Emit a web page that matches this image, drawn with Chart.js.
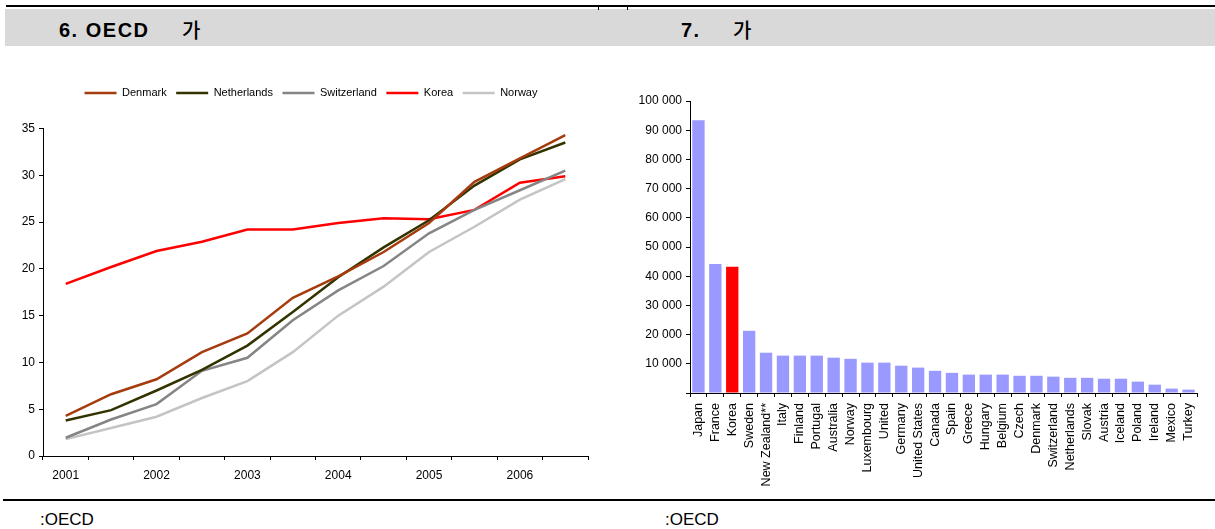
<!DOCTYPE html>
<html>
<head>
<meta charset="utf-8">
<script src="https://cdn.jsdelivr.net/npm/chart.js@4.4.1/dist/chart.umd.min.js"></script>
<style>
  html, body { margin: 0; padding: 0; }
  body {
    width: 1215px; height: 529px; position: relative; overflow: hidden; background: #fff;
    font-family: "Liberation Sans", Arial, "Noto Sans CJK KR", sans-serif; color: #000;
  }
  .rule { position: absolute; background: #000; }
  .band { position: absolute; left: 5px; right: 0; top: 9px; height: 37px; background: #d9d9d9; }
  .head { position: absolute; top: 18px; font-size: 20px; font-weight: bold; letter-spacing: 1.5px; line-height: 24px; white-space: nowrap; }
  .hangul { font-family: "Noto Sans CJK KR", sans-serif; font-weight: 500; letter-spacing: 0; }
  .src { position: absolute; top: 510px; font-size: 17px; line-height: 20px; white-space: nowrap; }
  canvas { position: absolute; }
</style>
</head>
<body>
  <div class="rule" style="left:6px; right:0; top:5px; height:2px;"></div>
  <div class="band"></div>
  <div class="rule" style="left:598px; top:7px; width:1px; height:3px;"></div>
  <div class="rule" style="left:627px; top:7px; width:1px; height:3px;"></div>
  <div class="head" style="left:59px;">6. OECD</div>
  <div class="head hangul" style="left:182px;">가</div>
  <div class="head" style="left:681px;">7.</div>
  <div class="head hangul" style="left:733px;">가</div>

  <canvas id="lineChart" style="left:0px; top:78px;" width="600" height="408"></canvas>
  <canvas id="barChart" style="left:620px; top:88px;" width="595" height="405"></canvas>

  <div class="rule" style="left:3px; right:0; top:499px; height:2px;"></div>
  <div class="src" style="left:40px;">:OECD</div>
  <div class="src" style="left:665px;">:OECD</div>

<script>
// ---- Line chart: half-yearly series, 2001-2006 ----
const periods = ['2001', '', '2002', '', '2003', '', '2004', '', '2005', '', '2006', ''];
const denmark     = [4.3, 6.6, 8.2, 11.1, 13.1, 16.9, 19.2, 21.8, 24.9, 29.3, 31.8, 34.3];
const netherlands = [3.8, 4.9, 7.0, 9.2, 11.8, 15.4, 19.1, 22.3, 25.2, 28.9, 31.7, 33.5];
const switzerland = [1.95, 3.9, 5.55, 9.1, 10.5, 14.5, 17.7, 20.3, 23.8, 26.3, 28.4, 30.5];
const korea       = [18.4, 20.2, 21.9, 22.9, 24.2, 24.2, 24.9, 25.4, 25.3, 26.3, 29.2, 29.9];
const norway      = [1.8, 3.0, 4.2, 6.2, 8.0, 11.1, 15.0, 18.1, 21.8, 24.5, 27.4, 29.6];
const lineTicks   = [0, 5, 10, 15, 20, 25, 30, 35];

// ---- Bar chart: countries ----
const countries = ['Japan', 'France', 'Korea', 'Sweden', 'New Zealand**', 'Italy', 'Finland', 'Portugal',
  'Australia', 'Norway', 'Luxembourg', 'United', 'Germany', 'United States', 'Canada', 'Spain', 'Greece',
  'Hungary', 'Belgium', 'Czech', 'Denmark', 'Switzerland', 'Netherlands', 'Slovak', 'Austria', 'Iceland',
  'Poland', 'Ireland', 'Mexico', 'Turkey'];
const amounts = [93400, 44200, 43200, 21300, 13800, 12800, 12800, 12800, 12100, 11700, 10400, 10400, 9350,
  8700, 7600, 6900, 6300, 6300, 6300, 5900, 5900, 5600, 5200, 5200, 4900, 4900, 3900, 2850, 1500, 1150];
const highlighted = 'Korea';

const FONT = '"Liberation Sans", Arial, sans-serif';

// Legend: extra space below it, and nudged right so it centres over the plot
const legendTweak = {
  id: 'legendTweak',
  beforeInit(chart) {
    const lg = chart.legend;
    if (!lg || lg._spaced) return;
    const fit = lg.fit;
    lg.fit = function () { fit.call(this); this.height += 20; };
    lg._spaced = true;
  },
  afterLayout(chart) {
    const lg = chart.legend;
    if (!lg) return;
    lg.left += 17;
    lg.right += 17;
  }
};

new Chart(document.getElementById('lineChart'), {
  type: 'line',
  data: {
    labels: periods,
    datasets: [
      { label: 'Denmark', data: denmark, borderColor: '#a63c0e' },
      { label: 'Netherlands', data: netherlands, borderColor: '#333300' },
      { label: 'Switzerland', data: switzerland, borderColor: '#858585' },
      { label: 'Korea', data: korea, borderColor: '#ff0000' },
      { label: 'Norway', data: norway, borderColor: '#c4c4c4' }
    ].map(d => Object.assign(d, { borderWidth: 2.5, pointRadius: 0, tension: 0, fill: false }))
  },
  plugins: [legendTweak],
  options: {
    responsive: false,
    animation: false,
    layout: { padding: { left: 0, right: 12, top: 0, bottom: 0 } },
    plugins: {
      tooltip: { enabled: false },
      legend: {
        position: 'top',
        labels: {
          usePointStyle: true, pointStyle: 'line', pointStyleWidth: 32,
          font: { family: FONT, size: 11 }, color: '#000', padding: 9.5
        }
      }
    },
    scales: {
      x: {
        type: 'category',
        offset: true,
        grid: { offset: true, drawOnChartArea: false, drawTicks: true, tickLength: 4, color: '#000' },
        border: { color: '#000', width: 1 },
        ticks: { autoSkip: false, maxRotation: 0, padding: 8, color: '#000', font: { family: FONT, size: 12 } },
        afterFit(s) { s.height = 30; }
      },
      y: {
        min: 0, max: 35,
        afterBuildTicks(s) { s.ticks = lineTicks.map(v => ({ value: v })); },
        grid: { drawOnChartArea: false, drawTicks: true, tickLength: 4, color: '#000' },
        border: { color: '#000', width: 1 },
        ticks: { padding: 4, color: '#000', font: { family: FONT, size: 12 } },
        afterFit(s) { s.width = 43; }
      }
    }
  }
});

const fmtSpace = v => v === 0 ? '' : String(v).replace(/\B(?=(\d{3})+(?!\d))/g, ' ');

new Chart(document.getElementById('barChart'), {
  type: 'bar',
  data: {
    labels: countries,
    datasets: [{
      data: amounts,
      backgroundColor: countries.map(c => c === highlighted ? '#ff0000' : '#9999ff'),
      borderWidth: 0,
      barPercentage: 0.73,
      categoryPercentage: 1
    }]
  },
  options: {
    responsive: false,
    animation: false,
    layout: { padding: { left: 0, right: 18, top: 13, bottom: 0 } },
    plugins: { legend: { display: false }, tooltip: { enabled: false } },
    scales: {
      x: {
        grid: { offset: true, drawOnChartArea: false, drawTicks: true, tickLength: 4, color: '#000' },
        border: { color: '#000', width: 1 },
        ticks: { autoSkip: false, minRotation: 90, maxRotation: 90, padding: 6, color: '#000', font: { family: FONT, size: 12.5 } },
        afterFit(s) { s.height = 100; }
      },
      y: {
        min: 0, max: 100000,
        ticks: { stepSize: 10000, padding: 4, color: '#000', font: { family: FONT, size: 12 }, callback: fmtSpace },
        grid: { drawOnChartArea: false, drawTicks: true, tickLength: 4, color: '#000' },
        border: { color: '#000', width: 1 },
        afterFit(s) { s.width = 70; }
      }
    }
  }
});
</script>
</body>
</html>
